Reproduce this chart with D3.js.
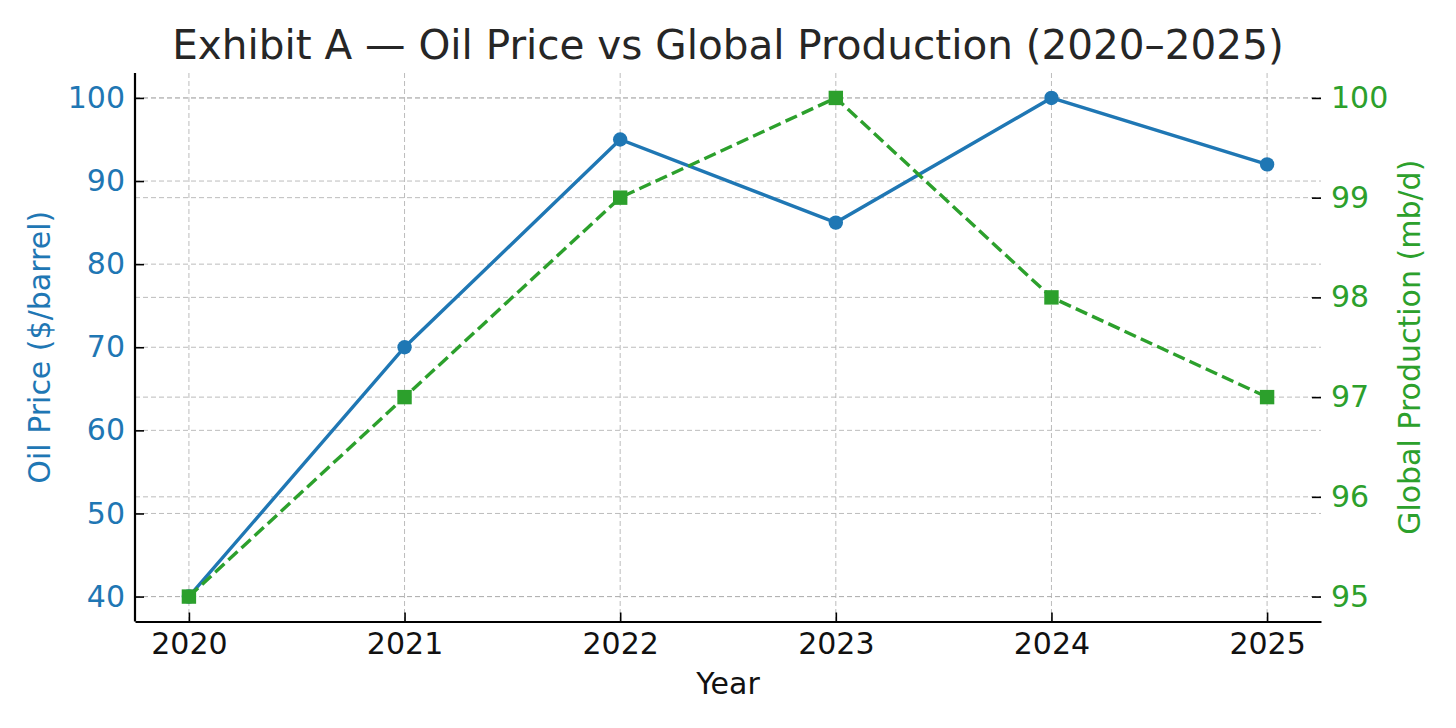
<!DOCTYPE html>
<html>
<head>
<meta charset="utf-8">
<script src="https://cdn.jsdelivr.net/npm/d3@7"></script>
<style>
  html, body { margin: 0; padding: 0; background: #fff; }
  #chart { width: 1456px; height: 728px; }
  text { font-family: "DejaVu Sans", sans-serif; }
</style>
</head>
<body>
<div id="chart"></div>
<script>
const years = [2020, 2021, 2022, 2023, 2024, 2025];
const oilPrice = [40, 70, 95, 85, 100, 92];
const production = [95, 97, 99, 100, 98, 97];
const priceTicks = [40, 50, 60, 70, 80, 90, 100];
const prodTicks = [95, 96, 97, 98, 99, 100];

const width = 1456, height = 728;
const blue = "#1f77b4", green = "#2ca02c";
const fs = 30;

const svg = d3.select("#chart")
  .append("svg")
  .attr("width", width)
  .attr("height", height);

// plot area
const plotL = 135, plotR = 1321, plotT = 73, plotB = 621.5;

const x = d3.scaleLinear().domain([2019.75, 2025.25]).range([plotL, plotR]);
const yL = d3.scaleLinear().domain([37, 103]).range([plotB, plotT]);
const yR = d3.scaleLinear().domain([94.75, 100.25]).range([plotB, plotT]);

// grid lines
const grid = svg.append("g")
  .attr("stroke", "#b0b0b0")
  .attr("stroke-opacity", 0.85)
  .attr("stroke-width", 1)
  .attr("stroke-dasharray", "5,3");

grid.selectAll(".gx").data(years).enter().append("line")
  .attr("x1", d => x(d)).attr("x2", d => x(d))
  .attr("y1", plotT).attr("y2", plotB);
grid.selectAll(".gl").data(priceTicks).enter().append("line")
  .attr("x1", plotL).attr("x2", plotR)
  .attr("y1", d => yL(d)).attr("y2", d => yL(d));
grid.selectAll(".gr").data(prodTicks).enter().append("line")
  .attr("x1", plotL).attr("x2", plotR)
  .attr("y1", d => yR(d)).attr("y2", d => yR(d));

// axes
const xAxis = svg.append("g")
  .attr("transform", `translate(0,${plotB})`)
  .call(d3.axisBottom(x).tickValues(years).tickFormat(d3.format("d"))
    .tickSizeInner(-9).tickSizeOuter(0).tickPadding(11));
xAxis.select(".domain").attr("stroke", "#000").attr("stroke-width", 2.2);
xAxis.selectAll(".tick line").attr("stroke", "#000").attr("stroke-width", 1.6);
xAxis.selectAll(".tick text").attr("font-size", fs).attr("fill", "#111");

const lAxis = svg.append("g")
  .attr("transform", `translate(${plotL},0)`)
  .call(d3.axisLeft(yL).tickValues(priceTicks).tickFormat(d3.format("d"))
    .tickSizeInner(-9).tickSizeOuter(0).tickPadding(10));
lAxis.select(".domain").attr("stroke", "#000").attr("stroke-width", 2.2)
  .attr("d", `M0,${plotB}V${plotT}`);
lAxis.selectAll(".tick line").attr("stroke", "#000").attr("stroke-width", 1.6);
lAxis.selectAll(".tick text").attr("font-size", fs).attr("fill", blue);

const rAxis = svg.append("g")
  .attr("transform", `translate(${plotR},0)`)
  .call(d3.axisRight(yR).tickValues(prodTicks).tickFormat(d3.format("d"))
    .tickSizeInner(-9).tickSizeOuter(0).tickPadding(10));
rAxis.select(".domain").remove();
rAxis.selectAll(".tick line").attr("stroke", "#000").attr("stroke-width", 1.6);
rAxis.selectAll(".tick text").attr("font-size", fs).attr("fill", green);

// oil price line
svg.append("path")
  .datum(years.map((d, i) => [d, oilPrice[i]]))
  .attr("fill", "none")
  .attr("stroke", blue)
  .attr("stroke-width", 3.4)
  .attr("d", d3.line().x(d => x(d[0])).y(d => yL(d[1])));
svg.append("g").selectAll("circle")
  .data(years.map((d, i) => [d, oilPrice[i]]))
  .enter().append("circle")
  .attr("cx", d => x(d[0]))
  .attr("cy", d => yL(d[1]))
  .attr("r", 7.2)
  .attr("fill", blue);

// production line
svg.append("path")
  .datum(years.map((d, i) => [d, production[i]]))
  .attr("fill", "none")
  .attr("stroke", green)
  .attr("stroke-width", 3.4)
  .attr("stroke-dasharray", "12.5,5.4")
  .attr("d", d3.line().x(d => x(d[0])).y(d => yR(d[1])));
svg.append("g").selectAll("rect")
  .data(years.map((d, i) => [d, production[i]]))
  .enter().append("rect")
  .attr("x", d => x(d[0]) - 7.2)
  .attr("y", d => yR(d[1]) - 7.2)
  .attr("width", 14.4)
  .attr("height", 14.4)
  .attr("fill", green);

// title and labels
svg.append("text")
  .attr("x", (plotL + plotR) / 2)
  .attr("y", 59)
  .attr("text-anchor", "middle")
  .attr("font-size", 40.5)
  .attr("fill", "#262626")
  .text("Exhibit A — Oil Price vs Global Production (2020–2025)");

svg.append("text")
  .attr("x", (plotL + plotR) / 2)
  .attr("y", 694)
  .attr("text-anchor", "middle")
  .attr("font-size", fs)
  .attr("fill", "#111")
  .text("Year");

svg.append("text")
  .attr("transform", `translate(50,${(plotT + plotB) / 2}) rotate(-90)`)
  .attr("text-anchor", "middle")
  .attr("font-size", fs)
  .attr("fill", blue)
  .text("Oil Price ($/barrel)");

svg.append("text")
  .attr("transform", `translate(1420,${(plotT + plotB) / 2}) rotate(-90)`)
  .attr("text-anchor", "middle")
  .attr("font-size", fs)
  .attr("fill", green)
  .text("Global Production (mb/d)");
</script>
</body>
</html>
